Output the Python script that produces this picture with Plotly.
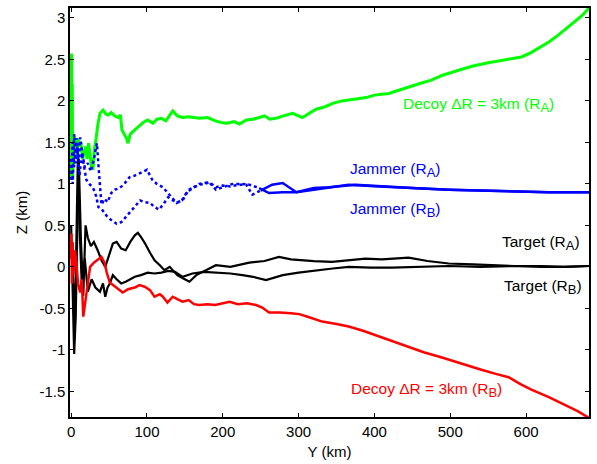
import plotly.graph_objects as go
import numpy as np

# ---------------- data ----------------
decoyA_y = [0, 0.5, 1, 1.5, 2, 3, 5, 7, 9, 11, 13, 15, 17, 19, 21, 23, 25, 27, 29, 31, 33, 35, 38, 42, 46, 49, 53, 57, 62, 65, 67, 70, 73, 75, 78, 84, 90, 95, 101, 108, 113, 119, 125, 130, 134, 140, 147, 155, 162, 169, 180, 190, 198, 205, 215, 222, 231, 240, 248, 255, 262, 270, 280, 292, 305, 315, 323, 335, 345, 357, 370, 380, 389, 400, 410, 419, 429, 445, 460, 475, 490, 511, 530, 550, 570, 594, 606, 616, 630, 642, 654, 664, 674, 683]
decoyA_z = [1.05, 2.57, 1.8, 2.2, 1.05, 1.6, 1.53, 1.3, 1.55, 1.45, 1.5, 1.3, 1.37, 1.45, 1.3, 1.49, 1.35, 1.2, 1.19, 1.44, 1.55, 1.7, 1.85, 1.89, 1.84, 1.83, 1.86, 1.82, 1.80, 1.83, 1.65, 1.6, 1.55, 1.49, 1.6, 1.65, 1.7, 1.74, 1.77, 1.73, 1.78, 1.79, 1.76, 1.82, 1.88, 1.82, 1.80, 1.81, 1.80, 1.79, 1.80, 1.76, 1.74, 1.73, 1.75, 1.72, 1.77, 1.78, 1.80, 1.82, 1.78, 1.79, 1.82, 1.85, 1.80, 1.86, 1.90, 1.93, 1.97, 2.00, 2.02, 2.03, 2.04, 2.07, 2.08, 2.09, 2.12, 2.17, 2.21, 2.25, 2.31, 2.37, 2.42, 2.46, 2.49, 2.53, 2.58, 2.63, 2.71, 2.79, 2.88, 2.95, 3.03, 3.12]

decoyB_y = [0, 0.5, 1, 2, 3, 5, 7, 9, 12, 14, 16, 18, 21, 25, 30, 34, 40, 44, 47, 51, 58, 63, 68, 75, 84, 90, 97, 104, 110, 117, 121, 127, 134, 140, 147, 155, 162, 169, 180, 190, 200, 209, 220, 232, 244, 252, 261, 275, 290, 301, 315, 331, 350, 366, 385, 410, 428, 445, 465, 488, 515, 541, 560, 577, 592, 607, 630, 651, 668, 683]
decoyB_z = [0.1, 0.4, -0.2, 0.3, -0.1, 0.2, 0.05, -0.2, -0.31, -0.15, -0.6, -0.45, -0.28, 0.0, 0.05, 0.08, 0.12, 0.05, -0.07, -0.19, -0.24, -0.28, -0.31, -0.27, -0.25, -0.22, -0.24, -0.28, -0.36, -0.33, -0.36, -0.43, -0.36, -0.39, -0.42, -0.40, -0.45, -0.46, -0.45, -0.46, -0.44, -0.42, -0.45, -0.44, -0.46, -0.49, -0.55, -0.55, -0.56, -0.57, -0.61, -0.66, -0.69, -0.72, -0.77, -0.85, -0.91, -0.97, -1.03, -1.09, -1.17, -1.24, -1.29, -1.33, -1.41, -1.48, -1.57, -1.66, -1.74, -1.82]

jamA_y = [0, 2, 4, 7, 10, 12, 15, 18, 22, 26, 30, 34, 37, 40, 44, 48, 53, 58, 64, 70, 77, 84, 91, 100, 107, 113, 121, 130, 139, 146, 152, 160, 169, 182, 191, 200, 213, 224, 235, 248, 261, 279, 297, 320, 340, 366, 400, 432, 470, 498, 540, 585, 630, 683]
jamA_z = [1.05, 1.5, 1.2, 1.55, 1.3, 1.56, 1.35, 1.2, 1.25, 1.15, 1.3, 1.49, 1.1, 0.75, 0.82, 0.78, 0.89, 0.93, 0.95, 1.0, 1.08, 1.1, 1.13, 1.17, 1.05, 1.0, 0.96, 0.86, 0.77, 0.8, 0.89, 0.95, 1.0, 1.02, 0.93, 0.96, 1.0, 1.0, 0.99, 0.95, 0.89, 0.9, 0.9, 0.93, 0.96, 0.99, 0.97, 0.96, 0.94, 0.93, 0.92, 0.91, 0.9, 0.9]

jamB_y = [0, 2, 4, 6, 8, 11, 14, 17, 20, 24, 29, 33, 36, 40, 44, 48, 52, 56, 60, 64, 68, 72, 77, 84, 91, 97, 104, 110, 116, 122, 128, 134, 140, 147, 155, 162, 169, 176, 182, 191, 200, 210, 222, 231, 239, 250, 265, 279, 297, 320, 340, 375, 410, 450, 498, 540, 585, 630, 683]
jamB_z = [1.3, 1.0, 1.6, 1.25, 1.45, 1.1, 1.37, 1.2, 1.05, 1.0, 0.95, 0.85, 0.72, 0.7, 0.65, 0.6, 0.57, 0.55, 0.52, 0.53, 0.55, 0.6, 0.65, 0.72, 0.8, 0.78, 0.77, 0.72, 0.69, 0.76, 0.84, 0.8, 0.78, 0.8, 0.93, 0.96, 0.99, 1.0, 1.02, 0.96, 0.98, 0.97, 0.99, 0.99, 0.87, 0.92, 0.99, 1.01, 0.9, 0.95, 0.96, 0.99, 0.97, 0.95, 0.93, 0.92, 0.91, 0.9, 0.9]

tgtA_y = [0, 2, 4, 6, 8, 10, 13, 16, 19, 22, 26, 30, 35, 40, 45, 50, 55, 60, 66, 72, 78, 84, 88, 92, 97, 104, 110, 117, 123, 130, 140, 148, 156, 165, 175, 191, 210, 235, 255, 274, 290, 301, 320, 344, 366, 388, 410, 445, 470, 498, 530, 560, 585, 620, 650, 683]
tgtA_z = [0.5, -0.3, -1.05, -0.6, 0.6, 1.3, 0.3, -0.35, 0.5, 0.35, 0.25, 0.3, 0.2, 0.08, 0.0, 0.15, 0.28, 0.3, 0.22, 0.2, 0.3, 0.38, 0.41, 0.36, 0.29, 0.17, 0.08, 0.02, -0.04, 0.0, -0.1, -0.14, -0.18, -0.1, -0.05, 0.02, 0.0, 0.05, 0.07, 0.12, 0.09, 0.08, 0.07, 0.06, 0.08, 0.1, 0.09, 0.11, 0.07, 0.04, 0.03, 0.02, 0.01, 0.01, 0.0, 0.01]

tgtB_y = [0, 2, 5, 7, 9, 11, 14, 18, 22, 27, 32, 38, 42, 45, 48, 51, 55, 60, 66, 72, 78, 84, 92, 101, 110, 119, 128, 137, 147, 160, 175, 191, 210, 226, 240, 257, 268, 279, 300, 323, 345, 366, 395, 423, 460, 498, 540, 580, 620, 650, 683]
tgtB_z = [0.3, 0.0, -0.7, 0.2, 1.4, 0.5, -0.2, 0.1, -0.3, -0.15, -0.25, -0.3, -0.2, -0.36, -0.25, -0.2, -0.1, -0.15, -0.2, -0.18, -0.15, -0.12, -0.1, -0.07, -0.08, -0.07, -0.05, -0.06, -0.12, -0.08, -0.06, -0.07, -0.08, -0.1, -0.12, -0.16, -0.13, -0.1, -0.07, -0.04, -0.02, 0.0, -0.01, -0.01, 0.0, 0.01, 0.0, 0.01, 0.0, 0.0, 0.01]

x_ticks = [0, 100, 200, 300, 400, 500, 600]
x_ticklabels = ["0", "100", "200", "300", "400", "500", "600"]
y_ticks = [-1.5, -1, -0.5, 0, 0.5, 1, 1.5, 2, 2.5, 3]
y_ticklabels = ["-1.5", "-1", "-0.5", "0", "0.5", "1", "1.5", "2", "2.5", "3"]

GREEN = "#00ff00"
RED = "#ff0000"
BLUE = "#0000ff"
BLACK = "#000000"
FONT = "Liberation Sans, Arial, sans-serif"

fig = go.Figure()

def add(x, y, color, width, dash="solid"):
    fig.add_trace(go.Scatter(x=x, y=y, mode="lines",
                             line=dict(color=color, width=width, dash=dash),
                             showlegend=False, hoverinfo="skip"))

add(tgtA_y, tgtA_z, BLACK, 2.2)
add(tgtB_y, tgtB_z, BLACK, 2.2)
add(decoyB_y, decoyB_z, RED, 2.5)
add(decoyA_y, decoyA_z, GREEN, 3)

# jammer curves: dotted in the noisy early part, solid once settled
SPLIT = 250
for jy, jz in [(jamA_y, jamA_z), (jamB_y, jamB_z)]:
    jy = np.array(jy); jz = np.array(jz)
    m1 = jy <= SPLIT
    idx = np.argmax(jy > SPLIT)
    add(jy[m1], jz[m1], BLUE, 2.5, "dot")
    add(jy[idx - 1:], jz[idx - 1:], BLUE, 2.5)

SUB = "<sub><span style='font-size:13px'>{}</span></sub>"
annos = [
    (537, 1.95, "Decoy ΔR = 3km (R" + SUB.format("A") + ")", GREEN),
    (427, 1.17, "Jammer (R" + SUB.format("A") + ")", BLUE),
    (427, 0.69, "Jammer (R" + SUB.format("B") + ")", BLUE),
    (620, 0.29, "Target (R" + SUB.format("A") + ")", BLACK),
    (622, -0.24, "Target (R" + SUB.format("B") + ")", BLACK),
    (469, -1.48, "Decoy ΔR = 3km (R" + SUB.format("B") + ")", RED),
]
for ax, ay, txt, col in annos:
    fig.add_annotation(x=ax, y=ay, text=txt, showarrow=False,
                       font=dict(color=col, size=15.5, family=FONT))

axis_common = dict(showline=True, linecolor="black", linewidth=1.5, mirror="ticks",
                   ticks="inside", ticklen=4, tickcolor="black", showgrid=False,
                   zeroline=False, tickfont=dict(size=15, family=FONT, color="black"))

fig.update_xaxes(range=[-1.5, 683], tickvals=x_ticks, ticktext=x_ticklabels,
                 title=dict(text="Y (km)", font=dict(size=15, family=FONT, color="black"), standoff=8),
                 **axis_common)
fig.update_yaxes(range=[-1.81, 3.12], tickvals=y_ticks, ticktext=y_ticklabels,
                 title=dict(text="Z (km)", font=dict(size=15, family=FONT, color="black"), standoff=8),
                 **axis_common)

fig.update_layout(width=597, height=464, margin=dict(l=70, r=6, t=7, b=46),
                  plot_bgcolor="white", paper_bgcolor="white",
                  font=dict(family=FONT, size=15, color="black"))

fig.write_html("out.html")
